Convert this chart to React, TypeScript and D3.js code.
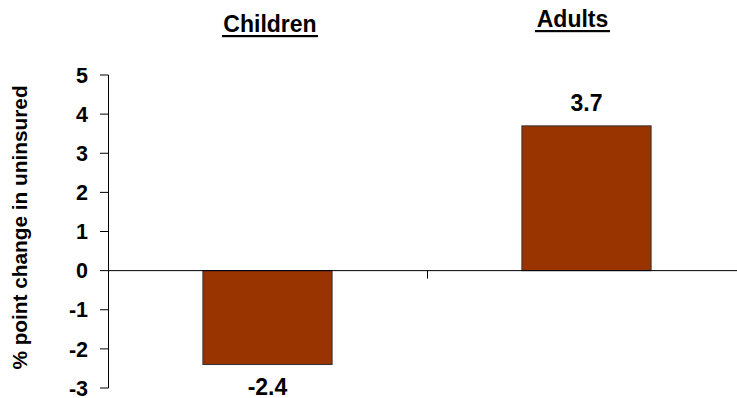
import React from "react";
import * as d3 from "d3";

const categories = ["Children", "Adults"];
const values = [-2.4, 3.7];
const valueLabels = ["-2.4", "3.7"];
const yTicks = [-3, -2, -1, 0, 1, 2, 3, 4, 5];
const yTitle = "% point change in uninsured";

const W = 737;
const H = 398;
const FONT = "'Liberation Sans', Arial, Helvetica, sans-serif";

export default function App() {
  const x = d3.scaleBand<string>().domain(categories).range([108, 746]).padding(0);
  const y = d3.scaleLinear().domain([-3, 5]).range([388, 75]);
  const barW = x.bandwidth() * 0.405;
  const y0 = y(0);

  // category headings sit above the plot, underlined
  const headings = [
    { text: categories[0], cx: 270, base: 31.5, w: 96 },
    { text: categories[1], cx: 572.5, base: 26.5, w: 75 },
  ];

  return (
    <svg
      width={W}
      height={H}
      style={{ position: "absolute", left: 0, top: 0, background: "#fff" }}
      fontFamily={FONT}
    >
      {/* bars */}
      {categories.map((c, i) => {
        const v = values[i];
        const cx = (x(c) as number) + x.bandwidth() / 2;
        const top = Math.min(y(v), y0);
        const h = Math.abs(y(v) - y0);
        return (
          <rect
            key={c}
            x={cx - barW / 2}
            y={top}
            width={barW}
            height={h}
            fill="#993300"
            stroke="#333"
            strokeWidth={1}
          />
        );
      })}

      {/* zero / category axis line */}
      <line x1={108} x2={W} y1={y0} y2={y0} stroke="#000" strokeWidth={1} />
      {/* category divider tick */}
      {categories.slice(1).map((c) => (
        <line
          key={c}
          x1={Math.round(x(c) as number) + 0.5}
          x2={Math.round(x(c) as number) + 0.5}
          y1={y0}
          y2={y0 + 8}
          stroke="#000"
          strokeWidth={1}
        />
      ))}

      {/* value axis */}
      <line x1={108.5} x2={108.5} y1={y(5)} y2={y(-3)} stroke="#000" strokeWidth={1} />
      {yTicks.map((t) => (
        <g key={t}>
          <line x1={100} x2={108.5} y1={y(t)} y2={y(t)} stroke="#000" strokeWidth={1} />
          <text
            x={88}
            y={y(t)}
            dy="0.36em"
            textAnchor="end"
            fontSize={21.5}
            fontWeight="bold"
            fill="#000"
          >
            {t}
          </text>
        </g>
      ))}

      {/* value labels */}
      {categories.map((c, i) => {
        const v = values[i];
        const cx = (x(c) as number) + x.bandwidth() / 2;
        const ly = v >= 0 ? y(v) - 15 : y(v) + 30.5;
        return (
          <text
            key={c}
            x={cx}
            y={ly}
            textAnchor="middle"
            fontSize={23}
            fontWeight="bold"
            fill="#000"
          >
            {valueLabels[i]}
          </text>
        );
      })}

      {/* headings */}
      {headings.map((hd) => (
        <g key={hd.text}>
          <text
            x={hd.cx}
            y={hd.base}
            textAnchor="middle"
            fontSize={23}
            fontWeight="bold"
            fill="#000"
          >
            {hd.text}
          </text>
          <rect x={hd.cx - hd.w / 2} y={hd.base + 3.5} width={hd.w} height={2.2} fill="#000" />
        </g>
      ))}

      {/* y-axis title */}
      <text
        transform={`translate(27,227.5) rotate(-90)`}
        textAnchor="middle"
        fontSize={20.8}
        fontWeight="bold"
        fill="#000"
      >
        {yTitle}
      </text>
    </svg>
  );
}
